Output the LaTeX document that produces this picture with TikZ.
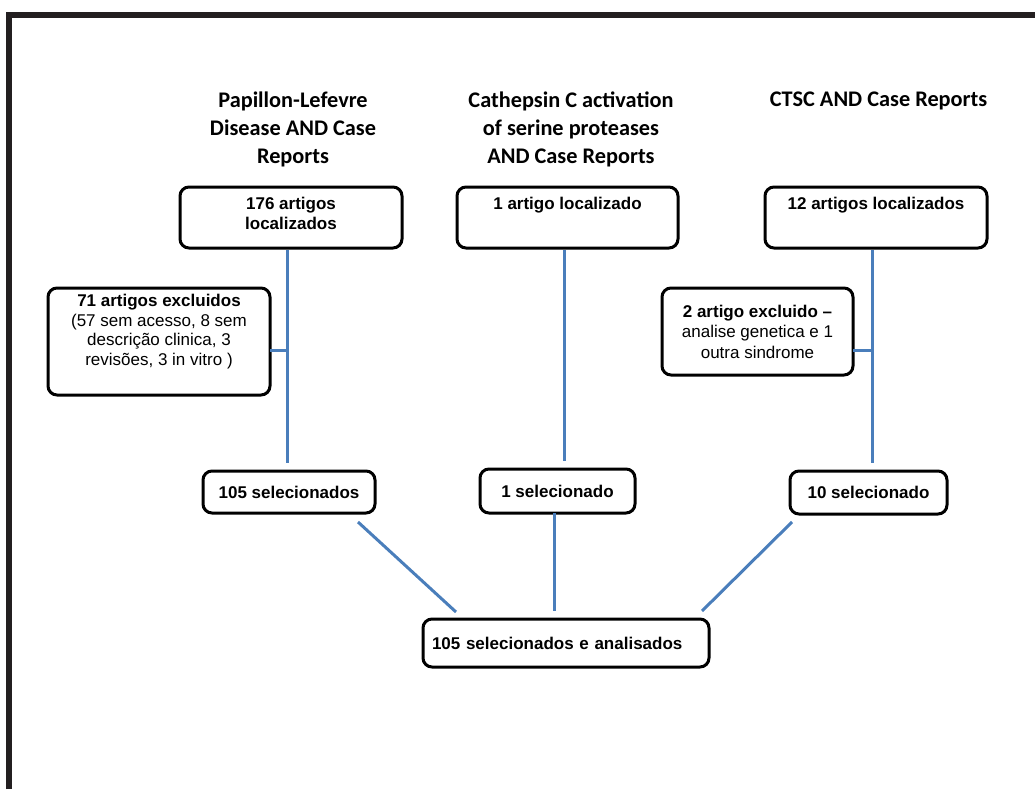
\documentclass[tikz,border=0pt]{standalone}
\usepackage{fontspec}
\newfontfamily\arialf{Liberation Sans}
\newfontfamily\calibrif{Carlito}
\usetikzlibrary{calc}

\definecolor{linkblue}{RGB}{74,126,187}
\definecolor{framegray}{RGB}{35,31,32}

\begin{document}
\begin{tikzpicture}[x=1pt, y=-1pt,
  box/.style={draw=black, line width=3pt, rounded corners=9pt, fill=white,
    inner sep=0pt, outer sep=0pt, align=center,
    font=\arialf\bfseries\fontsize{17}{20}\selectfont},
  title/.style={font=\calibrif\bfseries\fontsize{22.3}{28}\selectfont,
    align=center, inner sep=0pt, anchor=north},
  link/.style={draw=linkblue, line width=3pt},
]
\useasboundingbox (0,0) rectangle (1035,789);

% page frame (top and left edges)
\draw[framegray, line width=6pt] (9,789) -- (9,15) -- (1035,15);

% search strings
\node[title] (t1) at (293,92) {Papillon-Lefevre\\Disease AND Case\\Reports};
\node[title] (t2) at (571,92) {Cathepsin C activation\\of serine proteases\\AND Case Reports};
\node[title] (t3) at (878.5,92) {CTSC AND Case Reports};

% articles found
\node[box, minimum width=222, minimum height=61, text depth=8pt] (a1) at (291,217.5) {176 artigos\\localizados};
\node[box, minimum width=221, minimum height=61, text height=22pt, text depth=39pt] (b1) at (567.5,217.5) {1 artigo localizado};
\node[box, minimum width=222, minimum height=61, text height=22pt, text depth=39pt] (c1) at (876,217.5) {12 artigos localizados};

% exclusions
\node[box, minimum width=222, minimum height=107, text depth=23pt,
  font=\arialf\bfseries\fontsize{17}{19.5}\selectfont] (xl) at (159,341.5)
  {71 artigos excluidos\\\textmd{(57 sem acesso, 8 sem}\\\textmd{descrição clinica, 3}\\\textmd{revisões, 3 in vitro )}};
\node[box, minimum width=191, minimum height=87,
  font=\arialf\bfseries\fontsize{17}{20.5}\selectfont] (xr) at (757.5,331.5)
  {2 artigo excluido –\\\textmd{analise genetica e 1}\\\textmd{outra sindrome}};

% selected
\node[box, minimum width=172, minimum height=42] (a2) at (289,492) {105 selecionados};
\node[box, minimum width=155, minimum height=44] (b2) at (557.5,491) {1 selecionado};
\node[box, minimum width=157, minimum height=43] (c2) at (868.5,492.5) {10 selecionado};

% final result
\node[box, minimum width=286, minimum height=48, text width=268pt, align=left] (fin) at (566,643) {105 selecionados e analisados};

% connectors
\coordinate (a1b) at ($(a1.south)+(-4,2)$);
\coordinate (a2t) at ($(a2.north)+(-2,-8)$);
\coordinate (b1b) at ($(b1.south)+(-3.5,2)$);
\coordinate (b2t) at ($(b2.north)+(6.5,-8)$);
\coordinate (c1b) at ($(c1.south)+(-4,2)$);
\coordinate (c2t) at ($(c2.north)+(3.5,-8)$);
\coordinate (xle) at ($(xl.east)+(0,8.5)$);
\coordinate (xre) at ($(xr.east)+(0,18.5)$);

\draw[link] (a1b) -- (a2t);
\draw[link] (b1b) -- (b2t);
\draw[link] (c1b) -- (c2t);
\draw[link] (xle) -- (xle -| a1b);
\draw[link] (xre) -- (xre -| c1b);

\coordinate (b2b) at ($(b2.south)+(-3.5,0)$);
\draw[link] (b2b) -- ($(b2b |- fin.north)+(0,-8)$);
\draw[link] ($(a2.south east)+(-17,9)$) -- ($(fin.north west)+(33,-7)$);
\draw[link] ($(c2.south west)+(2,8)$) -- ($(fin.north east)+(-7,-8)$);
\end{tikzpicture}
\end{document}
